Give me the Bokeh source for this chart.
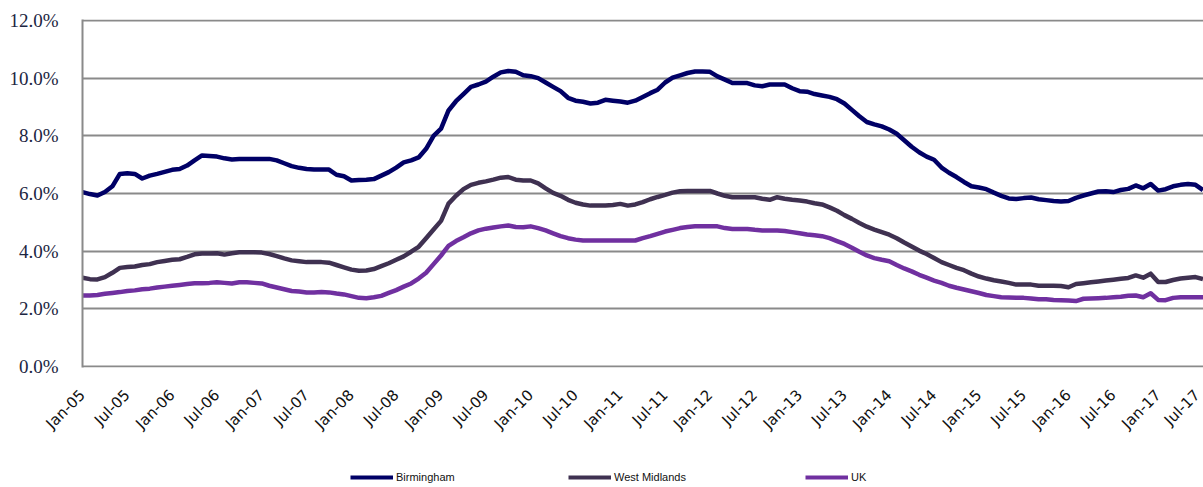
from math import pi

from bokeh.embed import file_html
from bokeh.layouts import column
from bokeh.models import (FixedTicker, Legend, LegendItem, PrintfTickFormatter,
                          Range1d)
from bokeh.plotting import figure
from bokeh.resources import INLINE

# Monthly rates (%), Jan-05 .. Jul-17
birmingham = [
    6.05, 5.98, 5.93, 6.05, 6.25, 6.68, 6.70, 6.68, 6.52, 6.62, 6.68, 6.75,
    6.82, 6.85, 6.97, 7.15, 7.32, 7.30, 7.28, 7.22, 7.18, 7.20, 7.20, 7.20,
    7.20, 7.20, 7.15, 7.05, 6.95, 6.89, 6.85, 6.83, 6.83, 6.83, 6.65, 6.60,
    6.45, 6.47, 6.48, 6.50, 6.62, 6.74, 6.90, 7.08, 7.15, 7.25, 7.55, 8.00,
    8.25, 8.88, 9.20, 9.45, 9.70, 9.78, 9.88, 10.05, 10.20, 10.25, 10.22, 10.10,
    10.07, 10.00, 9.85, 9.70, 9.55, 9.32, 9.22, 9.18, 9.12, 9.15, 9.25, 9.22,
    9.19, 9.15, 9.22, 9.35, 9.48, 9.60, 9.85, 10.02, 10.10, 10.18, 10.23, 10.23,
    10.22, 10.06, 9.95, 9.83, 9.83, 9.83, 9.75, 9.72, 9.78, 9.78, 9.78, 9.65,
    9.55, 9.53, 9.45, 9.40, 9.35, 9.27, 9.12, 8.90, 8.68, 8.48, 8.40, 8.33,
    8.22, 8.07, 7.85, 7.62, 7.43, 7.28, 7.17, 6.90, 6.72, 6.57, 6.40, 6.25,
    6.21, 6.15, 6.03, 5.92, 5.83, 5.81, 5.84, 5.86, 5.80, 5.77, 5.74, 5.72,
    5.74, 5.85, 5.93, 6.00, 6.07, 6.08, 6.05, 6.12, 6.16, 6.28, 6.18, 6.33,
    6.10, 6.15, 6.25, 6.30, 6.33, 6.30, 6.12,
]
west_midlands = [
    3.08, 3.03, 3.02, 3.10, 3.25, 3.42, 3.45, 3.47, 3.52, 3.55, 3.62, 3.66,
    3.70, 3.72, 3.80, 3.89, 3.92, 3.92, 3.93, 3.88, 3.93, 3.96, 3.96, 3.96,
    3.95, 3.90, 3.83, 3.75, 3.68, 3.65, 3.62, 3.62, 3.62, 3.60, 3.52, 3.44,
    3.36, 3.32, 3.33, 3.38, 3.48, 3.58, 3.70, 3.82, 3.98, 4.15, 4.45, 4.75,
    5.05, 5.65, 5.92, 6.15, 6.30, 6.37, 6.42, 6.48, 6.55, 6.57, 6.48, 6.45,
    6.45, 6.35, 6.18, 6.02, 5.92, 5.78, 5.68, 5.62, 5.58, 5.58, 5.58, 5.60,
    5.64, 5.58, 5.62, 5.70, 5.80, 5.88, 5.95, 6.03, 6.08, 6.09, 6.09, 6.09,
    6.09, 6.00, 5.92, 5.87, 5.87, 5.87, 5.87, 5.82, 5.78, 5.87, 5.82, 5.78,
    5.76, 5.72, 5.66, 5.62, 5.52, 5.40, 5.25, 5.12, 4.98, 4.85, 4.75, 4.66,
    4.57, 4.45, 4.30, 4.16, 4.02, 3.90, 3.76, 3.62, 3.52, 3.42, 3.34, 3.22,
    3.12, 3.05, 2.99, 2.95, 2.90, 2.84, 2.84, 2.84, 2.80, 2.80, 2.80, 2.79,
    2.75, 2.86, 2.89, 2.92, 2.95, 2.98, 3.01, 3.04, 3.07, 3.16, 3.08, 3.22,
    2.93, 2.93, 3.00, 3.05, 3.08, 3.10, 3.03,
]
uk = [
    2.46, 2.46, 2.48, 2.52, 2.55, 2.58, 2.62, 2.64, 2.68, 2.70, 2.74, 2.77,
    2.80, 2.83, 2.86, 2.89, 2.89, 2.90, 2.92, 2.90, 2.88, 2.92, 2.92, 2.90,
    2.88, 2.80, 2.74, 2.68, 2.62, 2.60, 2.57, 2.57, 2.58, 2.57, 2.53, 2.50,
    2.44, 2.38, 2.37, 2.40, 2.45, 2.55, 2.65, 2.77, 2.88, 3.05, 3.25, 3.55,
    3.85, 4.18, 4.35, 4.48, 4.62, 4.72, 4.78, 4.82, 4.86, 4.89, 4.84, 4.83,
    4.86, 4.80, 4.72, 4.62, 4.52, 4.45, 4.40, 4.37, 4.37, 4.37, 4.37, 4.37,
    4.37, 4.37, 4.37, 4.45, 4.52, 4.60, 4.68, 4.74, 4.80, 4.84, 4.86, 4.86,
    4.86, 4.86, 4.80, 4.77, 4.77, 4.77, 4.74, 4.72, 4.72, 4.72, 4.70, 4.66,
    4.62, 4.58, 4.55, 4.52, 4.45, 4.35, 4.25, 4.12, 3.98, 3.85, 3.76, 3.70,
    3.65, 3.52, 3.40, 3.30, 3.18, 3.08, 2.98, 2.90, 2.80, 2.73, 2.67, 2.61,
    2.55, 2.48, 2.44, 2.40, 2.39, 2.38, 2.38, 2.36, 2.33, 2.33, 2.31, 2.30,
    2.29, 2.27, 2.35, 2.36, 2.37, 2.38, 2.40, 2.42, 2.45, 2.46, 2.40, 2.54,
    2.31, 2.30, 2.38, 2.40, 2.40, 2.40, 2.40,
]

# Half-yearly date labels along the bottom axis
tick_labels = [
    "Jan-05", "Jul-05", "Jan-06", "Jul-06", "Jan-07", "Jul-07", "Jan-08",
    "Jul-08", "Jan-09", "Jul-09", "Jan-10", "Jul-10", "Jan-11", "Jul-11",
    "Jan-12", "Jul-12", "Jan-13", "Jul-13", "Jan-14", "Jul-14", "Jan-15",
    "Jul-15", "Jan-16", "Jul-16", "Jan-17", "Jul-17",
]
y_ticks = [0, 2, 4, 6, 8, 10, 12]

months = list(range(len(birmingham)))
x_ticks = [i * 6 for i in range(len(tick_labels))]

GRID = "#8a8a8a"
# (values, name, colour, legend offset from the plot's left edge)
series = [
    (uk, "UK", "#7030a0", 723),
    (west_midlands, "West Midlands", "#3f3151", 486),
    (birmingham, "Birmingham", "#000066", 268),
]

# --- main chart -------------------------------------------------------------
p = figure(
    width=1203, height=447,
    output_backend="svg", toolbar_location=None,
    x_range=Range1d(0, 150.07), y_range=Range1d(-0.035, 12.035),
    min_border_left=82, min_border_right=0,
    min_border_top=19, min_border_bottom=80,
)
p.outline_line_color = None
p.background_fill_color = "white"
p.border_fill_color = "white"

p.xgrid.visible = False
p.ygrid.ticker = FixedTicker(ticks=y_ticks)
p.ygrid.grid_line_color = GRID
p.ygrid.grid_line_width = 2

p.yaxis.ticker = FixedTicker(ticks=y_ticks)
p.yaxis.formatter = PrintfTickFormatter(format="%.1f%%")
p.yaxis.axis_line_color = GRID
p.yaxis.axis_line_width = 2
p.yaxis.major_tick_line_color = None
p.yaxis.minor_tick_line_color = None
p.yaxis.major_label_standoff = 18
p.yaxis.major_label_text_font = "Liberation Serif"
p.yaxis.major_label_text_font_size = "19px"
p.yaxis.major_label_text_color = "#1c2642"

p.xaxis.ticker = FixedTicker(ticks=x_ticks)
p.xaxis.major_label_overrides = {t: lab for t, lab in zip(x_ticks, tick_labels)}
p.xaxis.major_label_orientation = pi / 4
p.xaxis.axis_line_color = None
p.xaxis.major_tick_line_color = None
p.xaxis.minor_tick_line_color = None
p.xaxis.major_label_standoff = 19
p.xaxis.major_label_text_font = "DejaVu Sans"
p.xaxis.major_label_text_font_size = "15px"
p.xaxis.major_label_text_color = "#111111"

for values, name, color, _ in series:
    p.line(months, values, line_color=color, line_width=4.5, line_join="round")

# --- legend strip underneath --------------------------------------------------
lf = figure(
    width=1203, height=40,
    output_backend="svg", toolbar_location=None,
    x_range=Range1d(0, 1), y_range=Range1d(0, 1),
    x_axis_type=None, y_axis_type=None,
    min_border_left=0, min_border_right=0, min_border_top=0, min_border_bottom=0,
)
lf.outline_line_color = None
lf.grid.visible = False
lf.background_fill_color = "white"
lf.border_fill_color = "white"

for _, name, color, legend_x in series:
    # swatch renderer kept outside the visible range; only its legend entry shows
    r = lf.line([0, 1], [5, 5], line_color=color, line_width=4)
    lg = Legend(items=[LegendItem(label=name, renderers=[r])],
                location=(legend_x, 3))
    lg.border_line_color = None
    lg.background_fill_alpha = 0
    lg.padding = 0
    lg.margin = 0
    lg.glyph_width = 43
    lg.glyph_height = 14
    lg.label_standoff = 3
    lg.label_text_font = "Liberation Sans"
    lg.label_text_font_size = "11px"
    lg.label_text_color = "#111111"
    lf.add_layout(lg, "center")

open("out.html", "w").write(file_html(column(p, lf, spacing=0), INLINE))
